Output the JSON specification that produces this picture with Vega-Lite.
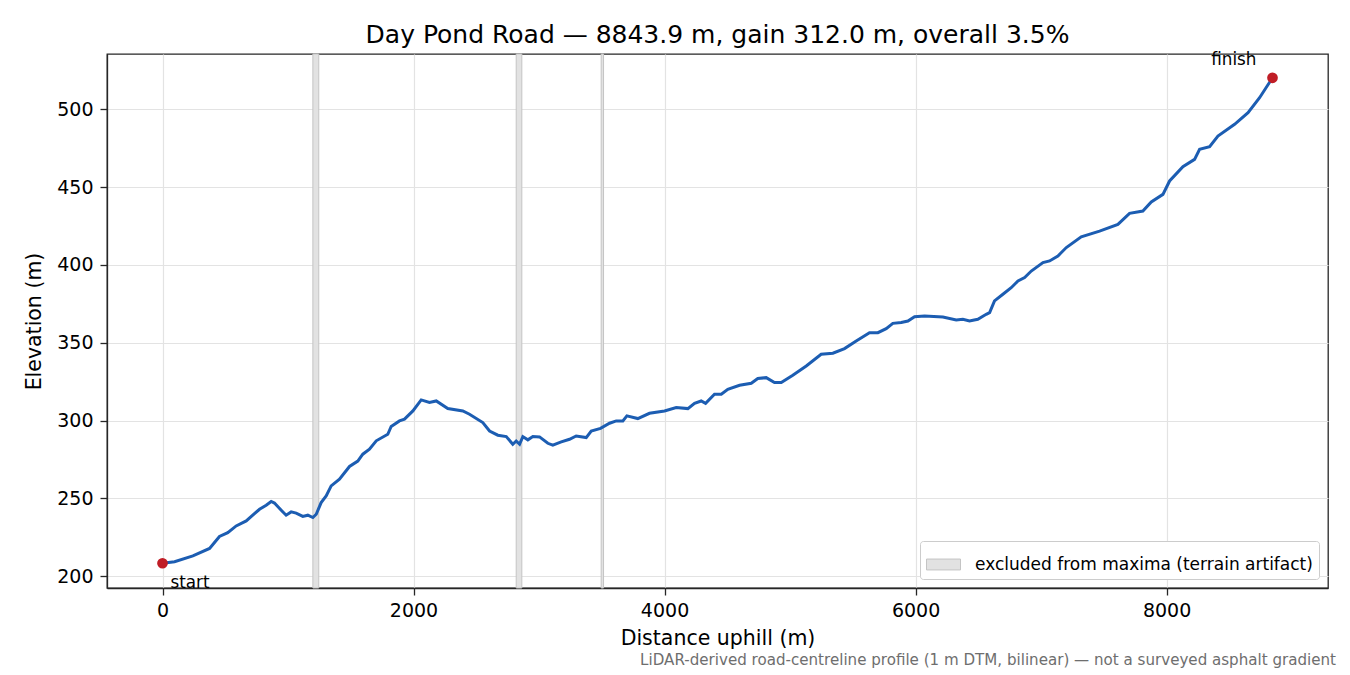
{
  "$schema": "https://vega.github.io/schema/vega-lite/v6.json",
  "description": "Day Pond Road elevation profile",
  "width": 1221,
  "height": 534,
  "autosize": {"type": "none"},
  "padding": {"left": 107, "top": 54, "right": 22, "bottom": 87},
  "title": {
    "text": "Day Pond Road — 8843.9 m, gain 312.0 m, overall 3.5%",
    "fontSize": 25,
    "fontWeight": "normal",
    "color": "#000000",
    "anchor": "middle",
    "baseline": "alphabetic",
    "offset": 12,
    "dy": 28
  },
  "config": {
    "font": "DejaVu Sans",
    "view": {"stroke": "#262626", "strokeWidth": 1.3},
    "axis": {
      "domainColor": "#262626",
      "domainWidth": 1.3,
      "tickColor": "#262626",
      "tickWidth": 1.3,
      "tickSize": 7,
      "labelColor": "#000000",
      "labelFontSize": 19,
      "titleFontSize": 20.5,
      "titleFontWeight": "normal",
      "titleColor": "#000000",
      "gridColor": "#e3e3e3",
      "gridWidth": 1.2
    }
  },
  "datasets": {
    "profile": [
      {"d": 0, "elev": 208.3},
      {"d": 96, "elev": 209.3},
      {"d": 242, "elev": 213},
      {"d": 375, "elev": 217.8},
      {"d": 454, "elev": 225.5},
      {"d": 520, "elev": 228},
      {"d": 587, "elev": 232.3},
      {"d": 667, "elev": 235.5},
      {"d": 773, "elev": 243},
      {"d": 826, "elev": 245.6},
      {"d": 866, "elev": 248},
      {"d": 892, "elev": 247},
      {"d": 946, "elev": 242.4},
      {"d": 985, "elev": 239.2},
      {"d": 1025, "elev": 241.3},
      {"d": 1065, "elev": 240.5},
      {"d": 1118, "elev": 238.4},
      {"d": 1158, "elev": 239.2},
      {"d": 1198, "elev": 237.7},
      {"d": 1225, "elev": 239.8},
      {"d": 1264, "elev": 247.3},
      {"d": 1304, "elev": 251.6},
      {"d": 1344, "elev": 258},
      {"d": 1410, "elev": 262.3},
      {"d": 1490, "elev": 270.5},
      {"d": 1556, "elev": 274},
      {"d": 1596, "elev": 278.4},
      {"d": 1649, "elev": 281.6},
      {"d": 1703, "elev": 287},
      {"d": 1795, "elev": 291.2},
      {"d": 1822, "elev": 296.2},
      {"d": 1888, "elev": 299.8},
      {"d": 1928, "elev": 300.9},
      {"d": 1995, "elev": 306.2},
      {"d": 2061, "elev": 313.3},
      {"d": 2127, "elev": 311.6},
      {"d": 2181, "elev": 312.6},
      {"d": 2273, "elev": 307.7},
      {"d": 2393, "elev": 306.2},
      {"d": 2446, "elev": 304.1},
      {"d": 2552, "elev": 298.7},
      {"d": 2606, "elev": 293.3},
      {"d": 2672, "elev": 290.6},
      {"d": 2739, "elev": 289.7},
      {"d": 2791, "elev": 284.8},
      {"d": 2818, "elev": 286.9},
      {"d": 2845, "elev": 284.8},
      {"d": 2871, "elev": 289.7},
      {"d": 2911, "elev": 287.6},
      {"d": 2951, "elev": 289.7},
      {"d": 3004, "elev": 289.5},
      {"d": 3070, "elev": 285.4},
      {"d": 3110, "elev": 284.2},
      {"d": 3177, "elev": 286.3},
      {"d": 3243, "elev": 288},
      {"d": 3296, "elev": 290.1},
      {"d": 3376, "elev": 289.1},
      {"d": 3416, "elev": 293.3},
      {"d": 3490, "elev": 295},
      {"d": 3562, "elev": 298.3},
      {"d": 3615, "elev": 299.8},
      {"d": 3668, "elev": 299.8},
      {"d": 3700, "elev": 303},
      {"d": 3787, "elev": 301.3},
      {"d": 3880, "elev": 304.7},
      {"d": 4000, "elev": 306.2},
      {"d": 4093, "elev": 308.4},
      {"d": 4186, "elev": 307.7},
      {"d": 4239, "elev": 311.1},
      {"d": 4292, "elev": 312.6},
      {"d": 4327, "elev": 311.1},
      {"d": 4398, "elev": 316.9},
      {"d": 4452, "elev": 316.9},
      {"d": 4504, "elev": 320.1},
      {"d": 4598, "elev": 322.7},
      {"d": 4691, "elev": 324},
      {"d": 4743, "elev": 327},
      {"d": 4810, "elev": 327.6},
      {"d": 4876, "elev": 324.4},
      {"d": 4930, "elev": 324.4},
      {"d": 5022, "elev": 329.1},
      {"d": 5129, "elev": 335.1},
      {"d": 5248, "elev": 342.6},
      {"d": 5341, "elev": 343.3},
      {"d": 5434, "elev": 346.3},
      {"d": 5527, "elev": 351.2},
      {"d": 5633, "elev": 356.5},
      {"d": 5700, "elev": 356.5},
      {"d": 5766, "elev": 359.1},
      {"d": 5819, "elev": 362.5},
      {"d": 5886, "elev": 363},
      {"d": 5939, "elev": 364},
      {"d": 5992, "elev": 366.8},
      {"d": 6072, "elev": 367.2},
      {"d": 6218, "elev": 366.6},
      {"d": 6324, "elev": 364.7},
      {"d": 6377, "elev": 365.1},
      {"d": 6430, "elev": 364},
      {"d": 6496, "elev": 365.1},
      {"d": 6563, "elev": 368.3},
      {"d": 6590, "elev": 369.4},
      {"d": 6629, "elev": 376.9},
      {"d": 6696, "elev": 381.2},
      {"d": 6762, "elev": 385.4},
      {"d": 6816, "elev": 389.7},
      {"d": 6869, "elev": 391.9},
      {"d": 6922, "elev": 396.1},
      {"d": 7015, "elev": 401.5},
      {"d": 7068, "elev": 402.6},
      {"d": 7134, "elev": 405.8},
      {"d": 7201, "elev": 411.2},
      {"d": 7320, "elev": 418.1},
      {"d": 7466, "elev": 421.8},
      {"d": 7612, "elev": 426.1},
      {"d": 7705, "elev": 433.2},
      {"d": 7811, "elev": 434.7},
      {"d": 7878, "elev": 440.5},
      {"d": 7971, "elev": 445.4},
      {"d": 8024, "elev": 454},
      {"d": 8130, "elev": 463.2},
      {"d": 8223, "elev": 467.9},
      {"d": 8263, "elev": 474.3},
      {"d": 8343, "elev": 476},
      {"d": 8409, "elev": 482.9},
      {"d": 8542, "elev": 490.4},
      {"d": 8649, "elev": 497.9},
      {"d": 8741, "elev": 507.5},
      {"d": 8843.9, "elev": 520.3}
    ],
    "ends": [
      {"d": 0, "elev": 208.3, "label": "start"},
      {"d": 8843.9, "elev": 520.3, "label": "finish"}
    ],
    "excluded": [
      {"d0": 1198, "d1": 1245},
      {"d0": 2818, "d1": 2863},
      {"d0": 3495, "d1": 3514}
    ]
  },
  "layer": [
    {
      "data": {"name": "excluded"},
      "mark": {"type": "rect", "stroke": "#c4c4c4", "strokeWidth": 1},
      "encoding": {
        "x": {
          "field": "d0",
          "type": "quantitative",
          "scale": {"domain": [-442.2, 9286.1], "nice": false, "zero": false},
          "axis": {
            "title": "Distance uphill (m)",
            "values": [0, 2000, 4000, 6000, 8000],
            "format": "d",
            "labelPadding": 6,
            "titlePadding": 8
          }
        },
        "x2": {"field": "d1"},
        "color": {
          "datum": "excluded from maxima (terrain artifact)",
          "scale": {"range": ["#e2e2e2"]},
          "legend": {
            "title": null,
            "orient": "bottom-right",
            "offset": 9,
            "fillColor": "#ffffff",
            "strokeColor": "#cccccc",
            "cornerRadius": 3,
            "padding": 6,
            "symbolType": "M-1,-0.32H1V0.32H-1Z",
            "symbolSize": 1156,
            "symbolStrokeColor": "#c4c4c4",
            "symbolStrokeWidth": 1,
            "symbolOpacity": 1,
            "labelFontSize": 17,
            "labelLimit": 600,
            "labelColor": "#000000",
            "labelOffset": 14
          }
        }
      }
    },
    {
      "data": {"name": "profile"},
      "mark": {"type": "line", "color": "#1c5db2", "strokeWidth": 3},
      "encoding": {
        "x": {"field": "d", "type": "quantitative"},
        "y": {
          "field": "elev",
          "type": "quantitative",
          "scale": {"domain": [192.4, 535.6], "nice": false, "zero": false},
          "axis": {
            "title": "Elevation (m)",
            "values": [200, 250, 300, 350, 400, 450, 500],
            "labelPadding": 7,
            "titlePadding": 12
          }
        }
      }
    },
    {
      "data": {"name": "ends"},
      "mark": {"type": "circle", "color": "#c01d26", "opacity": 1, "size": 115},
      "encoding": {
        "x": {"field": "d", "type": "quantitative"},
        "y": {"field": "elev", "type": "quantitative"}
      }
    },
    {
      "data": {"name": "ends"},
      "transform": [{"filter": "datum.label === 'start'"}],
      "mark": {"type": "text", "align": "left", "baseline": "alphabetic", "dx": 8, "dy": 25, "fontSize": 16.8, "color": "#000000"},
      "encoding": {
        "x": {"field": "d", "type": "quantitative"},
        "y": {"field": "elev", "type": "quantitative"},
        "text": {"field": "label"}
      }
    },
    {
      "data": {"name": "ends"},
      "transform": [{"filter": "datum.label === 'finish'"}],
      "mark": {"type": "text", "align": "right", "baseline": "alphabetic", "dx": -16, "dy": -13, "fontSize": 16.8, "color": "#000000"},
      "encoding": {
        "x": {"field": "d", "type": "quantitative"},
        "y": {"field": "elev", "type": "quantitative"},
        "text": {"field": "label"}
      }
    },
    {
      "data": {"values": [{"note": "LiDAR-derived road-centreline profile (1 m DTM, bilinear) — not a surveyed asphalt gradient"}]},
      "mark": {"type": "text", "align": "right", "baseline": "alphabetic", "fontSize": 15.1, "color": "#6e6e6e"},
      "encoding": {
        "x": {"datum": 9350},
        "y": {"datum": 143},
        "text": {"field": "note"}
      }
    }
  ]
}
